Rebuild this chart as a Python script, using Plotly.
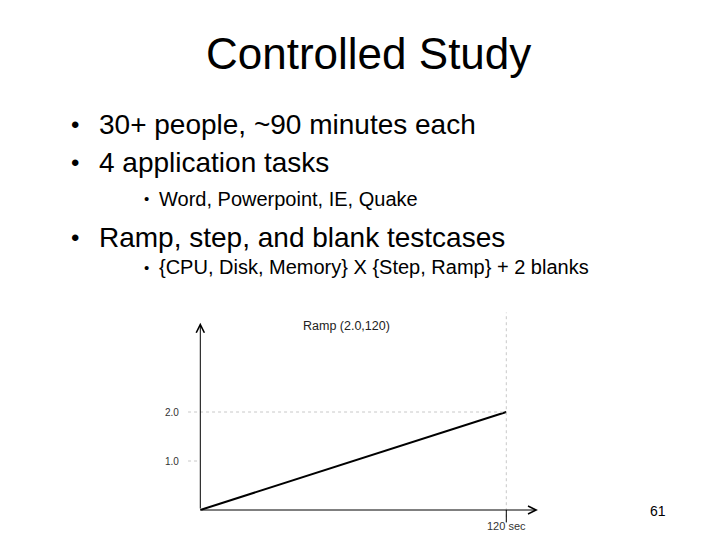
import plotly.graph_objects as go

# slide text
titre = "Controlled Study"
puces = ["30+ people, ~90 minutes each", "4 application tasks",
         "Ramp, step, and blank testcases"]
sous_puces = ["Word, Powerpoint, IE, Quake",
              "{CPU, Disk, Memory} X {Step, Ramp} + 2 blanks"]
numero_page = "61"

# ramp test case: load goes from 0 to 2.0 over 120 s
temps = [0, 120]
charge = [0, 2.0]
ticks_y = [1.0, 2.0]
ticks_y_texte = ["1.0", "2.0"]
titre_graphe = "Ramp (2.0,120)"
label_x = "120 sec"

W, H = 720, 540
POLICE = "Liberation Sans, Arial, sans-serif"


def px(x, y):
    # pixel -> paper
    return x / W, 1 - y / H


# mapping data -> pixels of the little chart
x0_px, y0_px = 192.3, 502.0
sx = (498.3 - x0_px) / temps[-1]
sy = (y0_px - 404.0) / charge[-1]
xr = [-20, 145]
yr = [-0.6, 4.2]
dom_x = [(x0_px + xr[0] * sx) / W, (x0_px + xr[1] * sx) / W]
dom_y = [1 - (y0_px - yr[0] * sy) / H, 1 - (y0_px - yr[1] * sy) / H]

fig = go.Figure()

fig.add_trace(go.Scatter(x=temps, y=charge, mode="lines",
                         line=dict(color="black", width=2),
                         hoverinfo="skip", showlegend=False))

gris = "#c8c8c8"
t_max, c_max = temps[-1], charge[-1]
# pointillés de repère
fig.add_shape(type="line", x0=-4.8, x1=t_max, y0=c_max, y1=c_max,
              line=dict(color=gris, width=1, dash="dot"))
fig.add_shape(type="line", x0=-4.8, x1=0, y0=ticks_y[0], y1=ticks_y[0],
              line=dict(color=gris, width=1, dash="dot"))
fig.add_shape(type="line", x0=t_max, x1=t_max, y0=-0.27, y1=4.03,
              line=dict(color=gris, width=1, dash="dot"))
# petit trait de graduation à 120
fig.add_shape(type="line", x0=t_max, x1=t_max, y0=0, y1=-0.25,
              line=dict(color="black", width=1))

annotations = []
# axes avec flèches
annotations.append(dict(x=0, y=3.82, ax=0, ay=0, xref="x", yref="y", axref="x", ayref="y",
                        showarrow=True, arrowhead=5, arrowsize=1.6, arrowwidth=1,
                        arrowcolor="black", text=""))
annotations.append(dict(x=132.4, y=0, ax=0, ay=0, xref="x", yref="y", axref="x", ayref="y",
                        showarrow=True, arrowhead=5, arrowsize=1.6, arrowwidth=1,
                        arrowcolor="black", text=""))

for v, t in zip(ticks_y, ticks_y_texte):
    annotations.append(dict(x=-7.4, y=v, xref="x", yref="y", text=t, showarrow=False,
                            xanchor="right", yanchor="middle",
                            font=dict(family=POLICE, size=10, color="#333333")))
annotations.append(dict(x=t_max, y=-0.33, xref="x", yref="y", text=label_x, showarrow=False,
                        xanchor="center", yanchor="middle",
                        font=dict(family=POLICE, size=11, color="#333333")))
annotations.append(dict(x=57.3, y=3.76, xref="x", yref="y", text=titre_graphe, showarrow=False,
                        xanchor="center", yanchor="middle",
                        font=dict(family=POLICE, size=12.5, color="#222222")))

# texte de la diapo
xt, yt = px(360, 46)
annotations.append(dict(x=xt, y=yt, xref="paper", yref="paper", text=titre, showarrow=False,
                        xanchor="center", yanchor="middle",
                        font=dict(family=POLICE, size=44, color="black")))

lignes = [(puces[0], 116.5, 0), (puces[1], 155, 0), (sous_puces[0], 190.5, 1),
          (puces[2], 229, 0), (sous_puces[1], 259, 1)]
for texte, y, niveau in lignes:
    if niveau == 0:
        xb, xtx, taille, tb = 67, 89, 28, 24
    else:
        xb, xtx, taille, tb = 138, 149, 20, 15
    bx, by = px(xb, y)
    annotations.append(dict(x=bx, y=by, xref="paper", yref="paper", text="•", showarrow=False,
                            xanchor="center", yanchor="middle",
                            font=dict(family=POLICE, size=tb, color="black")))
    tx, ty = px(xtx, y)
    annotations.append(dict(x=tx, y=ty, xref="paper", yref="paper", text=texte, showarrow=False,
                            xanchor="left", yanchor="middle",
                            font=dict(family=POLICE, size=taille, color="black")))

nx, ny = px(650, 503)
annotations.append(dict(x=nx, y=ny, xref="paper", yref="paper", text=numero_page, showarrow=False,
                        xanchor="center", yanchor="middle",
                        font=dict(family=POLICE, size=14, color="black")))

fig.update_layout(
    width=W, height=H,
    margin=dict(l=0, r=0, t=0, b=0),
    paper_bgcolor="white", plot_bgcolor="white",
    xaxis=dict(visible=False, range=xr, domain=dom_x, fixedrange=True),
    yaxis=dict(visible=False, range=yr, domain=dom_y, fixedrange=True),
    annotations=annotations,
    showlegend=False,
)

fig.write_html("out.html", config={"displayModeBar": False})
